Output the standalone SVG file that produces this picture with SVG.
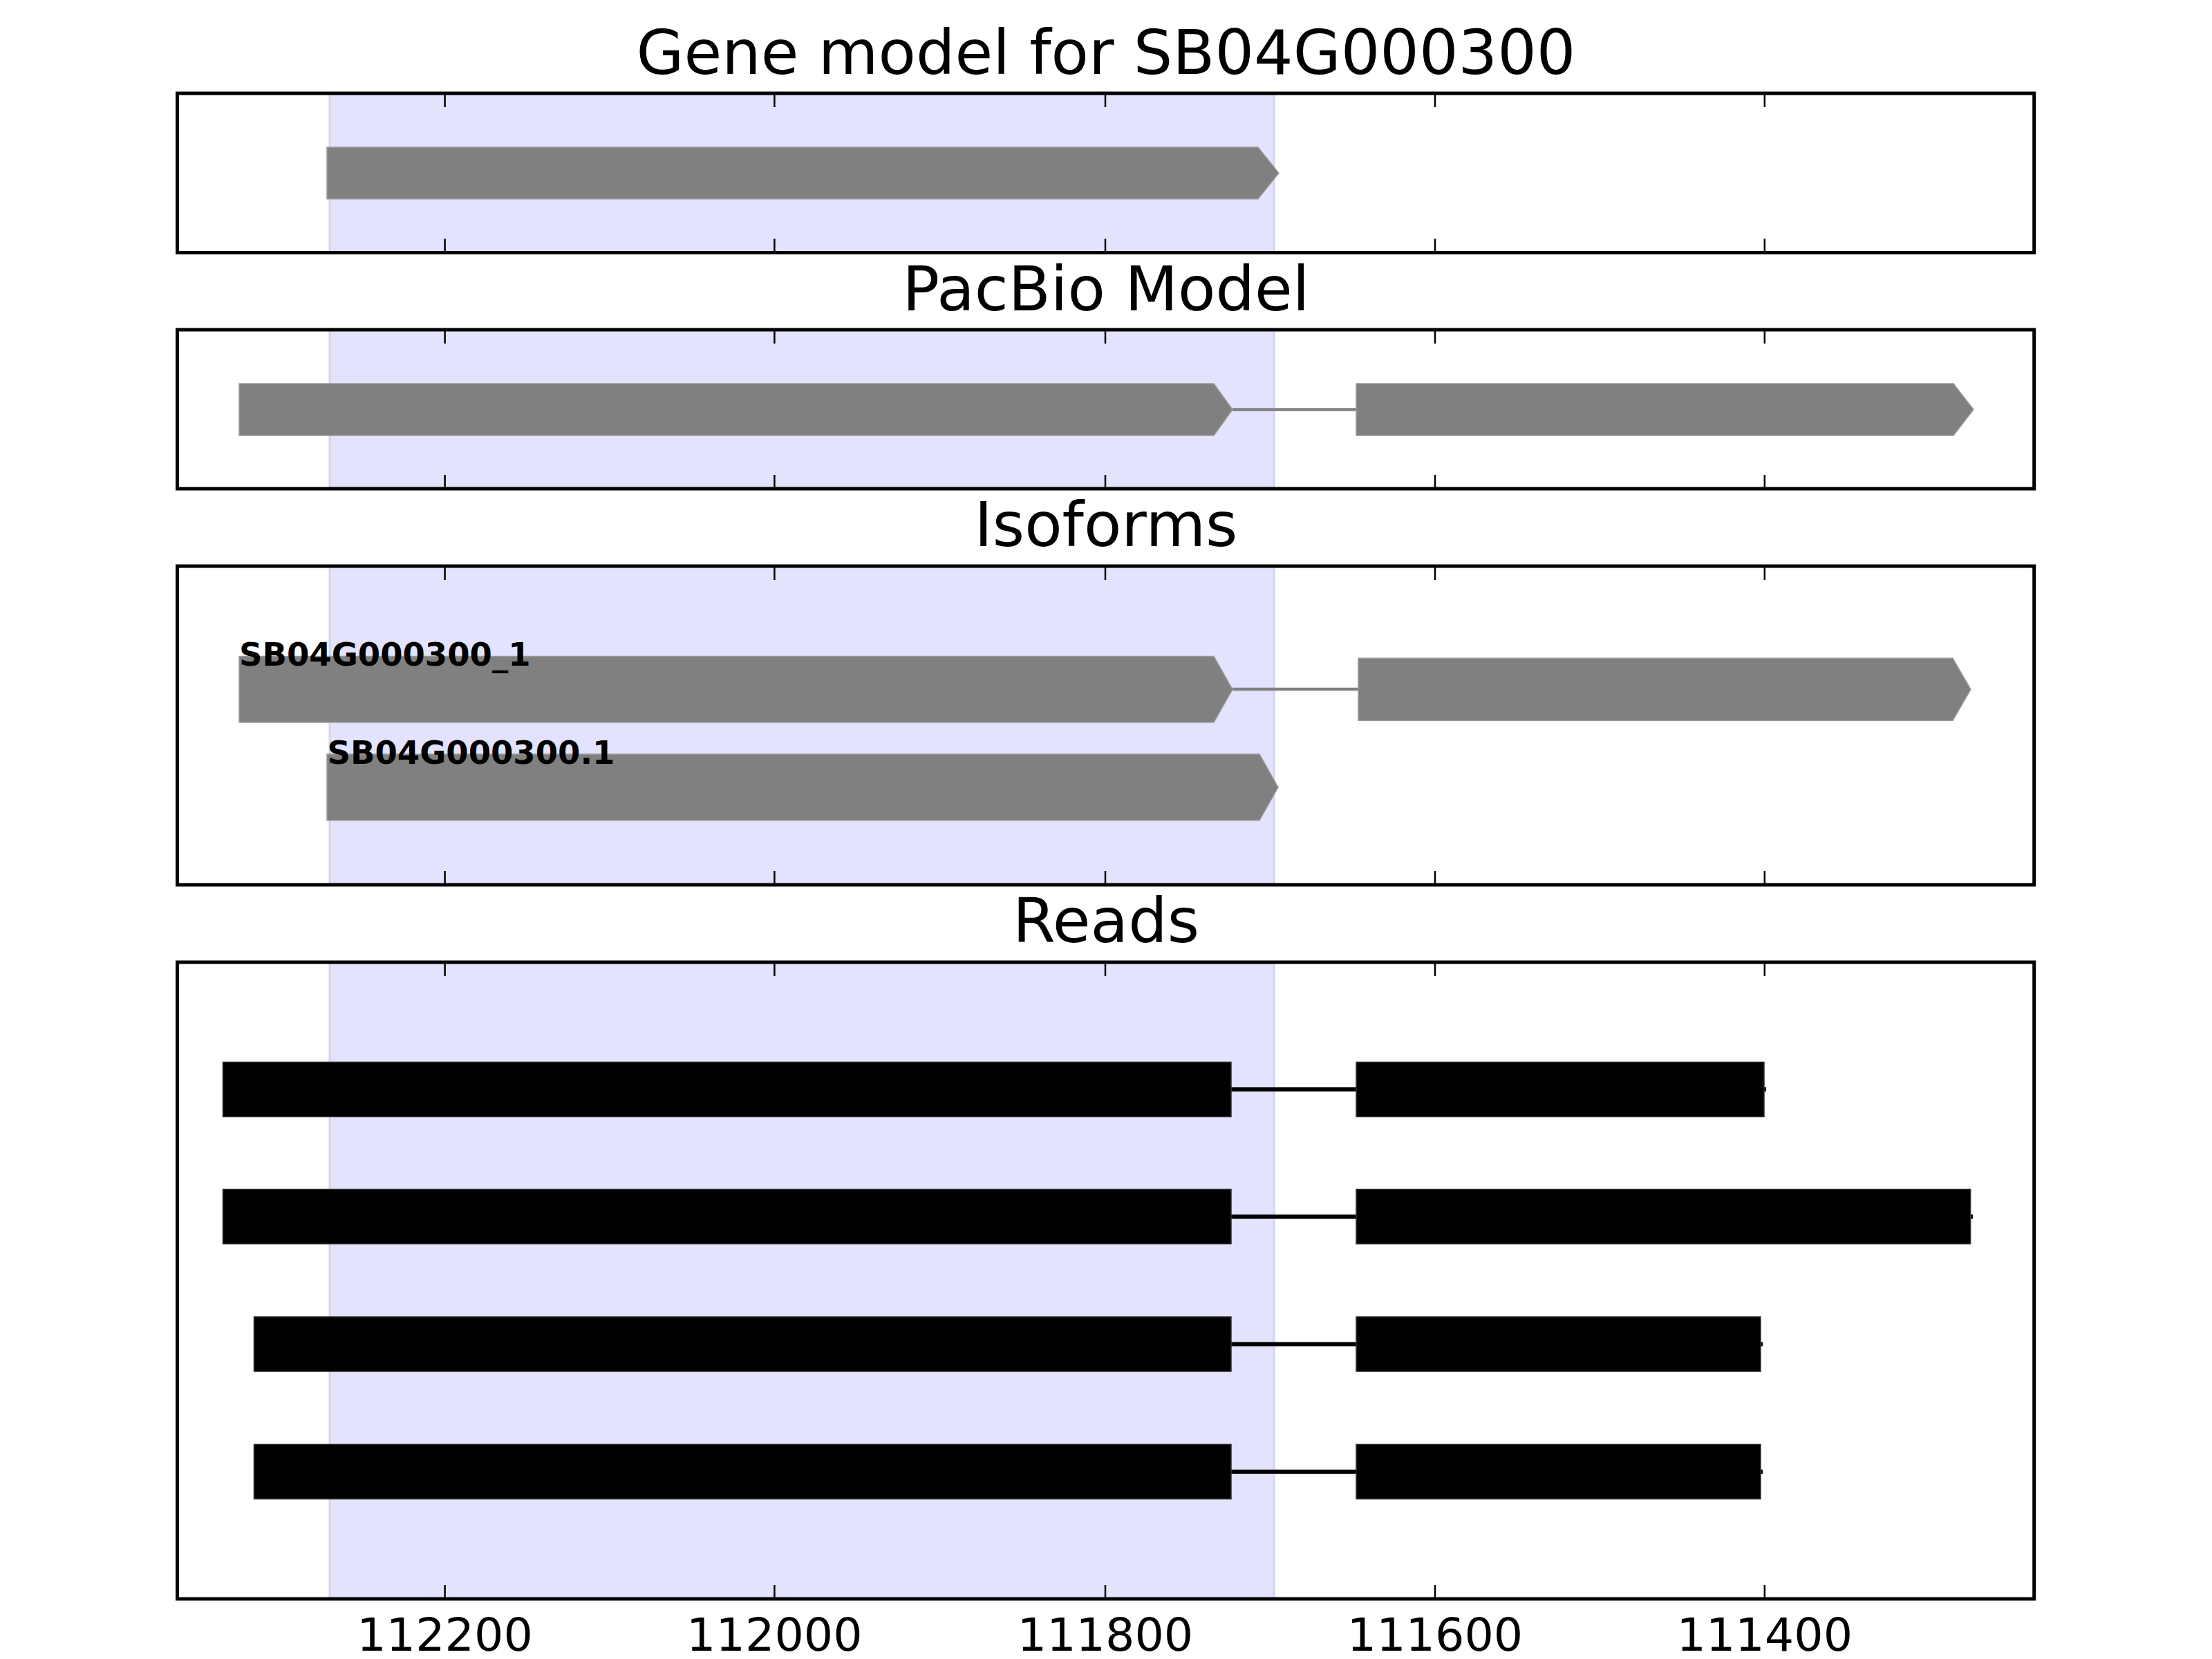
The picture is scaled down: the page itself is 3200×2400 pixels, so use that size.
<svg xmlns="http://www.w3.org/2000/svg" width="3200" height="2400" viewBox="0 0 3200 2400">
<style>
.bg{fill:#ffffff}
.shade{fill:#e3e3fd}
.shadeedge{stroke:#d4d4ee;stroke-width:3}
.frame{fill:none;stroke:#000;stroke-width:5}
.tick{stroke:#000;stroke-width:2.5}
.gene{fill:#808080;stroke:#9a9a9a;stroke-width:1.5}
.read{fill:#000;stroke:#333;stroke-width:1.5}
.intron{stroke:#808080;stroke-width:4.5;fill:none}
.rintron{stroke:#000;stroke-width:6;fill:none}
.title{font-family:"DejaVu Sans",sans-serif;font-size:89px;fill:#000;text-anchor:middle}
.tl{font-family:"DejaVu Sans",sans-serif;font-size:66.7px;fill:#000;text-anchor:middle}
.lab{font-family:"DejaVu Sans",sans-serif;font-size:46.5px;font-weight:bold;fill:#000}
</style>
<rect class="bg" x="0" y="0" width="3200" height="2400"/>

<!-- shaded region per panel -->
<g id="shading">
  <rect class="shade" x="477" y="135" width="1366" height="230.5"/>
  <rect class="shade" x="477" y="477" width="1366" height="230"/>
  <rect class="shade" x="477" y="819" width="1366" height="461"/>
  <rect class="shade" x="477" y="1392" width="1366" height="921"/>
  <g class="shadeedge">
    <line x1="477" y1="135" x2="477" y2="365.5"/><line x1="1843" y1="135" x2="1843" y2="365.5"/>
    <line x1="477" y1="477" x2="477" y2="707"/><line x1="1843" y1="477" x2="1843" y2="707"/>
    <line x1="477" y1="819" x2="477" y2="1280"/><line x1="1843" y1="819" x2="1843" y2="1280"/>
    <line x1="477" y1="1392" x2="477" y2="2313"/><line x1="1843" y1="1392" x2="1843" y2="2313"/>
  </g>
</g>

<!-- connectors (introns) -->
<g id="connectors">
  <line class="intron" x1="1783" y1="592.5" x2="1962" y2="592.5"/>
  <line class="intron" x1="1783" y1="997" x2="1965" y2="997"/>
  <line class="rintron" x1="1781" y1="1576" x2="2555" y2="1576"/>
  <line class="rintron" x1="1781" y1="1760" x2="2854" y2="1760"/>
  <line class="rintron" x1="1781" y1="1944.5" x2="2550" y2="1944.5"/>
  <line class="rintron" x1="1781" y1="2129" x2="2550" y2="2129"/>
</g>

<!-- Panel 1: gene model -->
<g id="gene-model">
  <polygon class="gene" points="473,213 1820,213 1850,250.4 1820,287.7 473,287.7"/>
</g>

<!-- Panel 2: PacBio model -->
<g id="pacbio-exon1">
  <polygon class="gene" points="346,555 1756,555 1783,592.5 1756,630 346,630"/>
</g>
<g id="pacbio-exon2">
  <polygon class="gene" points="1962,555 2826,555 2855,592.5 2826,630 1962,630"/>
</g>

<!-- Panel 3: isoforms -->
<g id="iso1-exon1">
  <polygon class="gene" points="346,949.5 1756,949.5 1783,997.3 1756,1045 346,1045"/>
</g>
<g id="iso1-exon2">
  <polygon class="gene" points="1965,952.3 2825,952.3 2851,997.3 2825,1042.3 1965,1042.3"/>
</g>
<g id="iso2">
  <polygon class="gene" points="473,1091 1822,1091 1849,1139 1822,1186.7 473,1186.7"/>
</g>
<g id="iso-labels">
  <text class="lab" x="346" y="963">SB04G000300_1</text>
  <text class="lab" x="473.5" y="1105">SB04G000300.1</text>
</g>

<!-- Panel 4: reads -->
<g id="read1">
  <rect class="read" x="322.5" y="1536.5" width="1458.5" height="79"/>
  <rect class="read" x="1962" y="1536.5" width="590" height="79"/>
</g>
<g id="read2">
  <rect class="read" x="322.5" y="1720.5" width="1458.5" height="79"/>
  <rect class="read" x="1962" y="1720.5" width="888.7" height="79"/>
</g>
<g id="read3">
  <rect class="read" x="367.5" y="1905" width="1413.5" height="79"/>
  <rect class="read" x="1962" y="1905" width="585" height="79"/>
</g>
<g id="read4">
  <rect class="read" x="367.5" y="2089.5" width="1413.5" height="79"/>
  <rect class="read" x="1962" y="2089.5" width="585" height="79"/>
</g>

<!-- frames and ticks -->
<g id="axes">
  <rect class="frame" x="256.5" y="135" width="2686.2" height="230.5"/>
  <rect class="frame" x="256.5" y="477" width="2686.2" height="230"/>
  <rect class="frame" x="256.5" y="819" width="2686.2" height="461"/>
  <rect class="frame" x="256.5" y="1392" width="2686.2" height="921"/>
  <g class="tick">
    <line x1="643.6" y1="135" x2="643.6" y2="155"/><line x1="1120.4" y1="135" x2="1120.4" y2="155"/><line x1="1599" y1="135" x2="1599" y2="155"/><line x1="2076" y1="135" x2="2076" y2="155"/><line x1="2552.8" y1="135" x2="2552.8" y2="155"/>
    <line x1="643.6" y1="365.5" x2="643.6" y2="345.5"/><line x1="1120.4" y1="365.5" x2="1120.4" y2="345.5"/><line x1="1599" y1="365.5" x2="1599" y2="345.5"/><line x1="2076" y1="365.5" x2="2076" y2="345.5"/><line x1="2552.8" y1="365.5" x2="2552.8" y2="345.5"/>
    <line x1="643.6" y1="477" x2="643.6" y2="497"/><line x1="1120.4" y1="477" x2="1120.4" y2="497"/><line x1="1599" y1="477" x2="1599" y2="497"/><line x1="2076" y1="477" x2="2076" y2="497"/><line x1="2552.8" y1="477" x2="2552.8" y2="497"/>
    <line x1="643.6" y1="707" x2="643.6" y2="687"/><line x1="1120.4" y1="707" x2="1120.4" y2="687"/><line x1="1599" y1="707" x2="1599" y2="687"/><line x1="2076" y1="707" x2="2076" y2="687"/><line x1="2552.8" y1="707" x2="2552.8" y2="687"/>
    <line x1="643.6" y1="819" x2="643.6" y2="839"/><line x1="1120.4" y1="819" x2="1120.4" y2="839"/><line x1="1599" y1="819" x2="1599" y2="839"/><line x1="2076" y1="819" x2="2076" y2="839"/><line x1="2552.8" y1="819" x2="2552.8" y2="839"/>
    <line x1="643.6" y1="1280" x2="643.6" y2="1260"/><line x1="1120.4" y1="1280" x2="1120.4" y2="1260"/><line x1="1599" y1="1280" x2="1599" y2="1260"/><line x1="2076" y1="1280" x2="2076" y2="1260"/><line x1="2552.8" y1="1280" x2="2552.8" y2="1260"/>
    <line x1="643.6" y1="1392" x2="643.6" y2="1412"/><line x1="1120.4" y1="1392" x2="1120.4" y2="1412"/><line x1="1599" y1="1392" x2="1599" y2="1412"/><line x1="2076" y1="1392" x2="2076" y2="1412"/><line x1="2552.8" y1="1392" x2="2552.8" y2="1412"/>
    <line x1="643.6" y1="2313" x2="643.6" y2="2293"/><line x1="1120.4" y1="2313" x2="1120.4" y2="2293"/><line x1="1599" y1="2313" x2="1599" y2="2293"/><line x1="2076" y1="2313" x2="2076" y2="2293"/><line x1="2552.8" y1="2313" x2="2552.8" y2="2293"/>
  </g>
</g>

<!-- titles -->
<g id="titles">
  <text class="title" x="1600" y="107">Gene model for SB04G000300</text>
  <text class="title" x="1600" y="449">PacBio Model</text>
  <text class="title" x="1600" y="789.5">Isoforms</text>
  <text class="title" x="1600" y="1363">Reads</text>
</g>

<!-- tick labels -->
<g id="ticklabels">
  <text class="tl" x="643.6" y="2388">112200</text>
  <text class="tl" x="1120.4" y="2388">112000</text>
  <text class="tl" x="1599" y="2388">111800</text>
  <text class="tl" x="2076" y="2388">111600</text>
  <text class="tl" x="2552.8" y="2388">111400</text>
</g>
</svg>
